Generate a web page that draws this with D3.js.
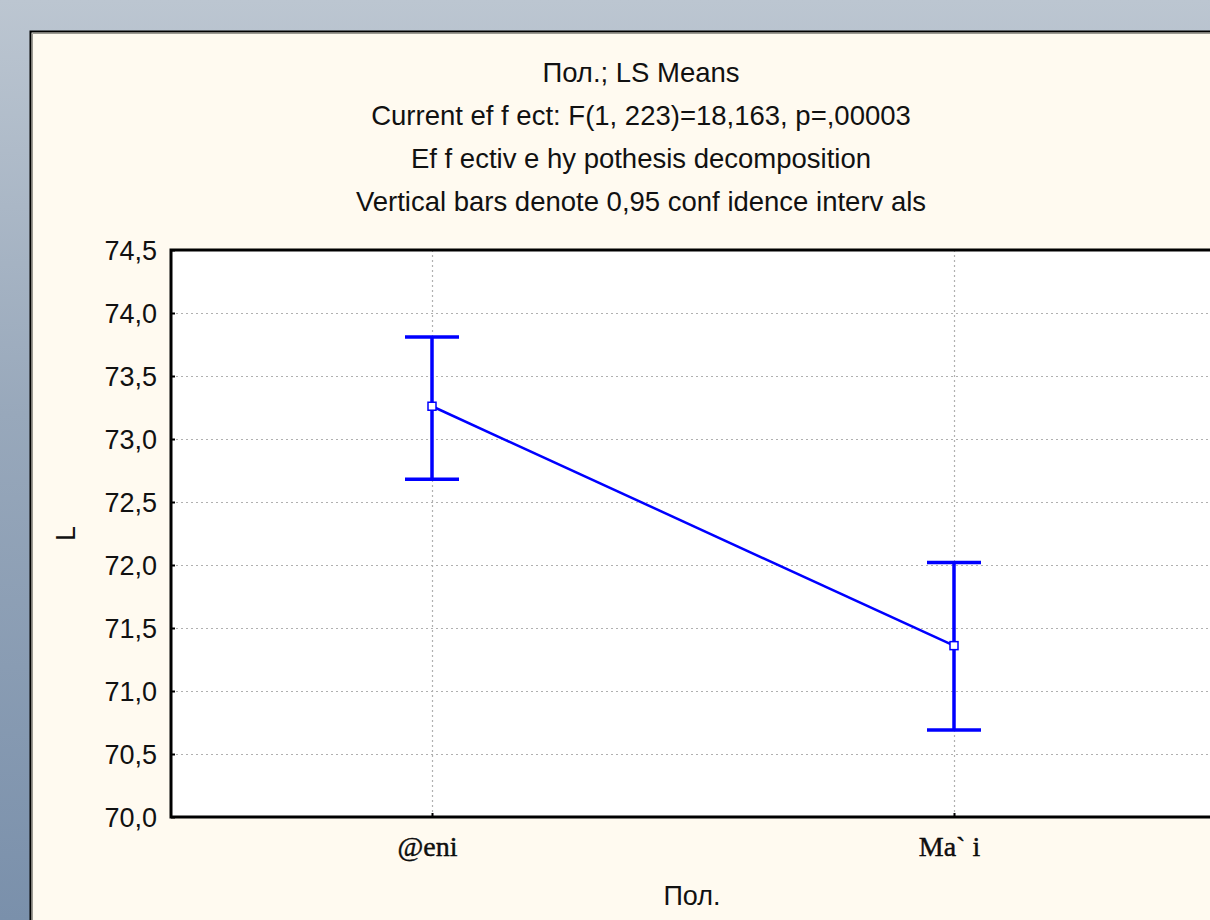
<!DOCTYPE html>
<html lang="en">
<head>
<meta charset="UTF-8">
<title>Пол.; LS Means</title>
<script src="https://d3js.org/d3.v7.min.js"></script>
<style>
    body { margin: 0; padding: 0; overflow: hidden; }
    svg { display: block; }
    .sans { font-family: "Liberation Sans", Arial, sans-serif; fill: #111; }
    .serif { font-family: "Liberation Serif", "Times New Roman", serif; fill: #111; }
</style>
</head>
<body>
<svg id="chart" width="1210" height="920"></svg>
<script>
// chart data
var categories = ['@eni', 'Ma` i'];
var means = [73.26, 71.36];
var upper = [73.81, 72.02];
var lower = [72.68, 70.69];
var yTicks = [70.0, 70.5, 71.0, 71.5, 72.0, 72.5, 73.0, 73.5, 74.0, 74.5];
var titleLines = [
    'Пол.; LS Means',
    'Current ef f ect: F(1, 223)=18,163, p=,00003',
    'Ef f ectiv e hy pothesis decomposition',
    'Vertical bars denote 0,95 conf idence interv als'
];
var xTitle = 'Пол.';
var yTitle = 'L';

(function () {
    var svg = d3.select('#chart');

    // window background
    var defs = svg.append('defs');
    var grad = defs.append('linearGradient').attr('id', 'bg').attr('x1', 0).attr('y1', 0).attr('x2', 0).attr('y2', 1);
    grad.append('stop').attr('offset', '0%').attr('stop-color', '#bcc6d1');
    grad.append('stop').attr('offset', '45%').attr('stop-color', '#98a8bb');
    grad.append('stop').attr('offset', '100%').attr('stop-color', '#7a90ab');
    svg.append('rect').attr('width', 1210).attr('height', 920).attr('fill', 'url(#bg)');

    // graph panel
    svg.append('rect')
        .attr('x', 30.5).attr('y', 31.5).attr('width', 1300).attr('height', 1000)
        .attr('fill', '#fffaf0').attr('stroke', '#000').attr('stroke-width', 2);
    svg.append('path')
        .attr('d', 'M32.5,1000V33.5H1300')
        .attr('fill', 'none').attr('stroke', '#9c9a92').attr('stroke-width', 1);

    var plot = {left: 171, top: 250, right: 1215, bottom: 817};

    var x = d3.scalePoint().domain(categories).range([plot.left, plot.right]).padding(0.5);
    var y = d3.scaleLinear().domain([70, 74.5]).range([plot.bottom, plot.top]);
    var fmt = function (v) { return d3.format('.1f')(v).replace('.', ','); };

    // titles
    svg.append('g').selectAll('text').data(titleLines).join('text')
        .attr('class', 'sans')
        .attr('x', 641)
        .attr('y', function (d, i) { return 82 + i * 43; })
        .attr('text-anchor', 'middle')
        .attr('font-size', '27.5px')
        .text(function (d) { return d; });

    // plot area
    svg.append('rect')
        .attr('x', plot.left).attr('y', plot.top)
        .attr('width', plot.right - plot.left).attr('height', plot.bottom - plot.top)
        .attr('fill', '#fff');

    // grid lines
    var grid = svg.append('g').attr('stroke', '#b0b0b0').attr('stroke-width', 1.2).attr('stroke-dasharray', '2,3');
    grid.selectAll('line.h').data(yTicks.slice(1, -1)).join('line')
        .attr('class', 'h')
        .attr('x1', plot.left).attr('x2', plot.right)
        .attr('y1', function (d) { return Math.round(y(d)) + 0.5; })
        .attr('y2', function (d) { return Math.round(y(d)) + 0.5; });
    grid.selectAll('line.v').data(categories).join('line')
        .attr('class', 'v')
        .attr('y1', plot.top).attr('y2', plot.bottom)
        .attr('x1', function (d) { return Math.round(x(d)) + 0.5; })
        .attr('x2', function (d) { return Math.round(x(d)) + 0.5; });

    // axes
    var yAxis = svg.append('g')
        .attr('transform', 'translate(' + plot.left + ',0)')
        .call(d3.axisLeft(y).tickValues(yTicks).tickFormat(fmt).tickSizeInner(-4).tickSizeOuter(0).tickPadding(14));
    yAxis.select('.domain').remove();
    yAxis.selectAll('.tick line').attr('stroke', '#000').attr('stroke-width', 2);
    yAxis.selectAll('.tick text')
        .attr('class', 'sans')
        .attr('font-size', '27px')
        .attr('fill', '#111')
        .attr('dy', '0.34em');

    var yAxisRight = svg.append('g')
        .attr('transform', 'translate(' + plot.right + ',0)')
        .call(d3.axisRight(y).tickValues(yTicks).tickFormat('').tickSizeInner(-4).tickSizeOuter(0));
    yAxisRight.select('.domain').remove();
    yAxisRight.selectAll('.tick line').attr('stroke', '#000').attr('stroke-width', 2);

    var xAxis = svg.append('g')
        .attr('transform', 'translate(0,' + plot.bottom + ')')
        .call(d3.axisBottom(x).tickSizeInner(-4).tickSizeOuter(0).tickPadding(14));
    xAxis.select('.domain').remove();
    xAxis.selectAll('.tick line').attr('stroke', '#000').attr('stroke-width', 2);
    xAxis.selectAll('.tick text')
        .attr('class', 'serif')
        .attr('font-size', '28px')
        .attr('fill', '#000')
        .attr('stroke', '#000')
        .attr('stroke-width', 0.4)
        .attr('dx', -5)
        .attr('dy', '0.9em');

    // plot frame
    svg.append('rect')
        .attr('x', plot.left).attr('y', plot.top)
        .attr('width', plot.right - plot.left).attr('height', plot.bottom - plot.top)
        .attr('fill', 'none').attr('stroke', '#000').attr('stroke-width', 3);

    // axis titles
    svg.append('text')
        .attr('class', 'sans')
        .attr('x', 692).attr('y', 905)
        .attr('text-anchor', 'middle')
        .attr('font-size', '27px')
        .text(xTitle);
    svg.append('text')
        .attr('class', 'sans')
        .attr('transform', 'translate(75,' + ((plot.top + plot.bottom) / 2) + ') rotate(-90)')
        .attr('text-anchor', 'middle')
        .attr('font-size', '27px')
        .text(yTitle);

    // error bars
    var blue = '#0000ff';
    var bars = svg.append('g').attr('stroke', blue).attr('stroke-width', 3.5);
    var capHalf = 27;
    categories.forEach(function (c, i) {
        var cx = x(c);
        bars.append('line').attr('x1', cx).attr('x2', cx).attr('y1', y(upper[i])).attr('y2', y(lower[i]));
        bars.append('line').attr('x1', cx - capHalf).attr('x2', cx + capHalf).attr('y1', y(upper[i])).attr('y2', y(upper[i]));
        bars.append('line').attr('x1', cx - capHalf).attr('x2', cx + capHalf).attr('y1', y(lower[i])).attr('y2', y(lower[i]));
    });

    // means line
    var line = d3.line()
        .x(function (d, i) { return x(categories[i]); })
        .y(function (d) { return y(d); });
    svg.append('path')
        .datum(means)
        .attr('d', line)
        .attr('fill', 'none')
        .attr('stroke', blue)
        .attr('stroke-width', 2.5);

    svg.append('g').selectAll('rect').data(means).join('rect')
        .attr('x', function (d, i) { return x(categories[i]) - 4; })
        .attr('y', function (d) { return y(d) - 4; })
        .attr('width', 8).attr('height', 8)
        .attr('fill', '#fff')
        .attr('stroke', blue)
        .attr('stroke-width', 1.5);
})();
</script>
</body>
</html>
